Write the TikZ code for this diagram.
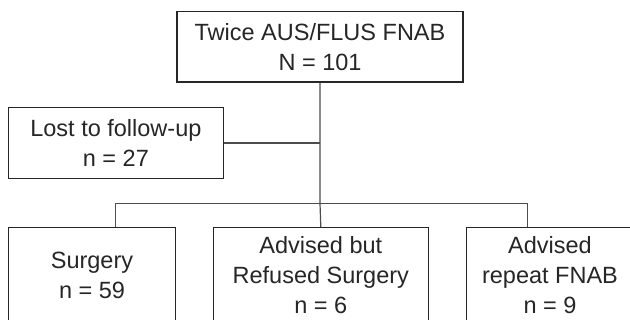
\documentclass[tikz,border=0pt]{standalone}
\usepackage{fontspec}
\setmainfont{Liberation Sans}
\begin{document}
\begin{tikzpicture}[x=0.5pt,y=-0.5pt,
    box/.style={draw=black!85, line width=0.6pt, align=center, inner sep=0pt,
      font=\fontsize{11.75}{15}\selectfont, text=black!85},
    link/.style={draw=black!70, line width=0.6pt}]
  \useasboundingbox (0,0) rectangle (630,320);
  \clip (0,0) rectangle (630,320);

  \node[box, minimum width=143pt, minimum height=35.15pt] (fnab) at (320,46.85) {Twice AUS/FLUS FNAB\\N = 101};
  \node[box, minimum width=107.5pt, minimum height=35.3pt] (lost) at (115.9,143) {Lost to follow-up\\n = 27};
  \node[box, minimum width=83.6pt, minimum height=47.5pt] (surg) at (92,275.2) {Surgery\\n = 59};
  \node[box, minimum width=107.5pt, minimum height=47.5pt] (refused) at (320.8,275.2) {Advised but\\Refused Surgery\\n = 6};
  \node[box, minimum width=83.5pt, minimum height=47.5pt] (repeat) at (550,275.2) {Advised\\repeat FNAB\\n = 9};

  \coordinate (busL) at (115.3,203.3);
  \coordinate (busR) at (527.1,203.3);
  \coordinate (busM) at (fnab.south |- busL);

  \draw[link] (fnab.south) -- (busM) -- (refused.north);
  \draw[link] (lost.east) -- (fnab.south |- lost.east);
  \draw[link] (busL |- surg.north) -- (busL) -- (busR) -- (busR |- repeat.north);
\end{tikzpicture}
\end{document}
